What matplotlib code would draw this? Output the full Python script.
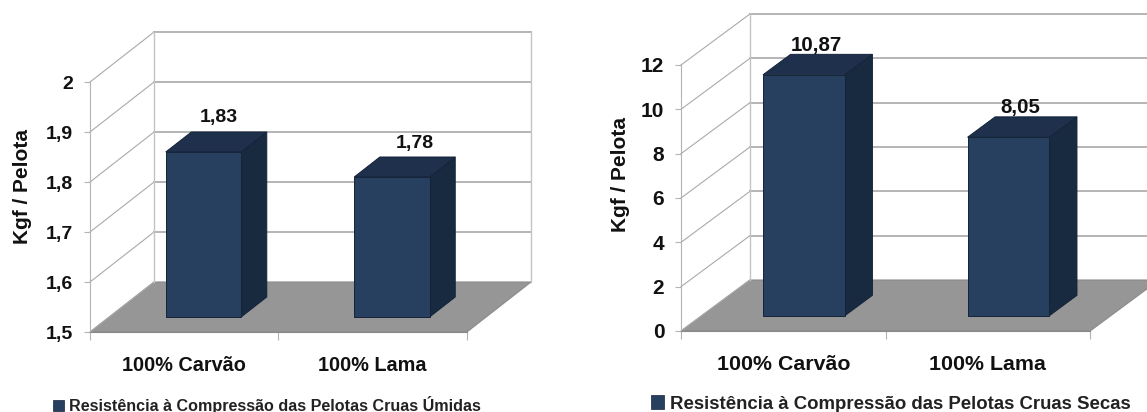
import matplotlib
matplotlib.use("Agg")
import matplotlib.pyplot as plt
from matplotlib.patches import Polygon, Patch

# ========== CONFIG ==========
categories = ["100% Carvão", "100% Lama"]

wet_values = [1.83, 1.78]
wet_labels = ["1,83", "1,78"]
wet_ticks = [1.5, 1.6, 1.7, 1.8, 1.9, 2.0]
wet_tick_labels = ["1,5", "1,6", "1,7", "1,8", "1,9", "2"]
wet_legend = "Resistência à Compressão das Pelotas Cruas Úmidas"

dry_values = [10.87, 8.05]
dry_labels = ["10,87", "8,05"]
dry_ticks = [0, 2, 4, 6, 8, 10, 12]
dry_tick_labels = ["0", "2", "4", "6", "8", "10", "12"]
dry_legend = "Resistência à Compressão das Pelotas Cruas Secas"

WIDTH, HEIGHT = 1147, 412
GRID = "#b4b4b4"
FLOOR = "#969696"
FRONT = "#274060"
TOP = "#1e304b"
SIDE = "#182a40"
EDGE = "#14233a"
INK = "#111111"

plt.rcParams["font.family"] = ["Liberation Sans", "DejaVu Sans"]
plt.rcParams["font.weight"] = "bold"


def make_axes(fig, left, right, bottom, top):
    return fig.add_axes([left / WIDTH, 1 - bottom / HEIGHT,
                         (right - left) / WIDTH, (bottom - top) / HEIGHT])


def draw_panel(ax, values, labels, ticks, tick_labels, legend, depth_x, depth_y,
               label_offsets, legend_pos, ylabel_pos, sizes):
    ymin, ymax = ticks[0], ticks[-1]
    n = len(categories)
    ax.set_xlim(0, n + depth_x)
    ax.set_ylim(ymin, ymax + depth_y)
    ax.patch.set_alpha(0)

    # a point at a given depth (0 = front, 1 = back) slides up and to the right
    def proj(x, y, d):
        return (x + d * depth_x, y + d * depth_y)

    # floor
    ax.add_patch(Polygon([proj(0, ymin, 0), proj(n, ymin, 0), proj(n, ymin, 1), proj(0, ymin, 1)],
                         closed=True, fc=FLOOR, ec="#8a8a8a", lw=0.8, zorder=1))

    # walls
    for v in ticks:
        xs, ys = zip(proj(0, v, 0), proj(0, v, 1))
        ax.plot(xs, ys, color="#aaaaaa", lw=0.8, zorder=2, clip_on=False)
        if v != ymin:
            xs, ys = zip(proj(0, v, 1), proj(n, v, 1))
            ax.plot(xs, ys, color=GRID, lw=1.4, zorder=2, clip_on=False)
    for x in (0, n):
        xs, ys = zip(proj(x, ymin, 1), proj(x, ymax, 1))
        ax.plot(xs, ys, color="#c4c4c4", lw=1.0, zorder=2, clip_on=False)

    # bars
    bar_w = 0.40
    d0, d1 = 0.30, 0.70
    for i, val in enumerate(values):
        x0 = i + 0.5 - bar_w / 2
        x1 = x0 + bar_w
        front = [proj(x0, ymin, d0), proj(x1, ymin, d0), proj(x1, val, d0), proj(x0, val, d0)]
        side = [proj(x1, ymin, d0), proj(x1, ymin, d1), proj(x1, val, d1), proj(x1, val, d0)]
        top = [proj(x0, val, d0), proj(x1, val, d0), proj(x1, val, d1), proj(x0, val, d1)]
        for pts, col in ((side, SIDE), (top, TOP), (front, FRONT)):
            ax.add_patch(Polygon(pts, closed=True, fc=col, ec=EDGE, lw=0.7, zorder=3))
        cx, cy = proj(i + 0.5, val, d1)
        ax.annotate(labels[i], (cx, cy), xytext=label_offsets[i], textcoords="offset pixels",
                    ha="center", va="bottom", fontsize=sizes["value"], fontweight="bold",
                    color=INK, zorder=4)

    # axes
    for s in ("top", "right"):
        ax.spines[s].set_visible(False)
    ax.spines["left"].set_bounds(ymin, ymax)
    ax.spines["bottom"].set_bounds(0, n)
    ax.spines["left"].set_color(GRID)
    ax.spines["bottom"].set_color("#8a8a8a")
    ax.spines["left"].set_zorder(2)
    ax.set_yticks(ticks)
    ax.set_yticklabels(tick_labels, fontsize=sizes["tick"], fontweight="bold", color=INK)
    ax.tick_params(axis="y", length=4, color=GRID, pad=8)
    ax.set_xticks(range(n + 1))
    ax.set_xticklabels([])
    ax.tick_params(axis="x", which="major", length=6, color=GRID)
    ax.set_xticks([i + 0.5 for i in range(n)], minor=True)
    ax.set_xticklabels(categories, minor=True, fontsize=sizes["cat"], fontweight="bold", color=INK)
    ax.tick_params(axis="x", which="minor", length=0, pad=17)

    ax.set_ylabel("Kgf / Pelota", fontsize=15, fontweight="bold", color=INK)
    ax.yaxis.set_label_coords(ylabel_pos[0] / WIDTH, 1 - ylabel_pos[1] / HEIGHT,
                              transform=ax.figure.transFigure)

    ax.legend(handles=[Patch(fc=FRONT, ec=EDGE, lw=0.5, label=legend)], frameon=False,
              loc="center left", bbox_to_anchor=(legend_pos[0] / WIDTH, 1 - legend_pos[1] / HEIGHT),
              bbox_transform=ax.figure.transFigure, fontsize=sizes["legend"], labelcolor="#222222",
              handlelength=0.7, handleheight=0.7, handletextpad=0.3, borderpad=0, borderaxespad=0)


fig = plt.figure(figsize=(WIDTH / 100, HEIGHT / 100), dpi=100)

ax1 = make_axes(fig, 90, 531, 332, 32)
draw_panel(ax1, wet_values, wet_labels, wet_ticks, wet_tick_labels, wet_legend,
           0.34, 0.10, [(-10, 6), (-3, 5)], (53, 405), (32, 186),
           {"value": 14, "tick": 14, "cat": 14.3, "legend": 11.65})

ax2 = make_axes(fig, 681, 1159, 331, 14)
draw_panel(ax2, dry_values, dry_labels, dry_ticks, dry_tick_labels, dry_legend,
           0.337, 2.3, [(-15, -1), (-16, 0)], (651, 404), (630, 175),
           {"value": 14.8, "tick": 15, "cat": 15.4, "legend": 13.4})

fig.savefig("out.png", dpi=100)
